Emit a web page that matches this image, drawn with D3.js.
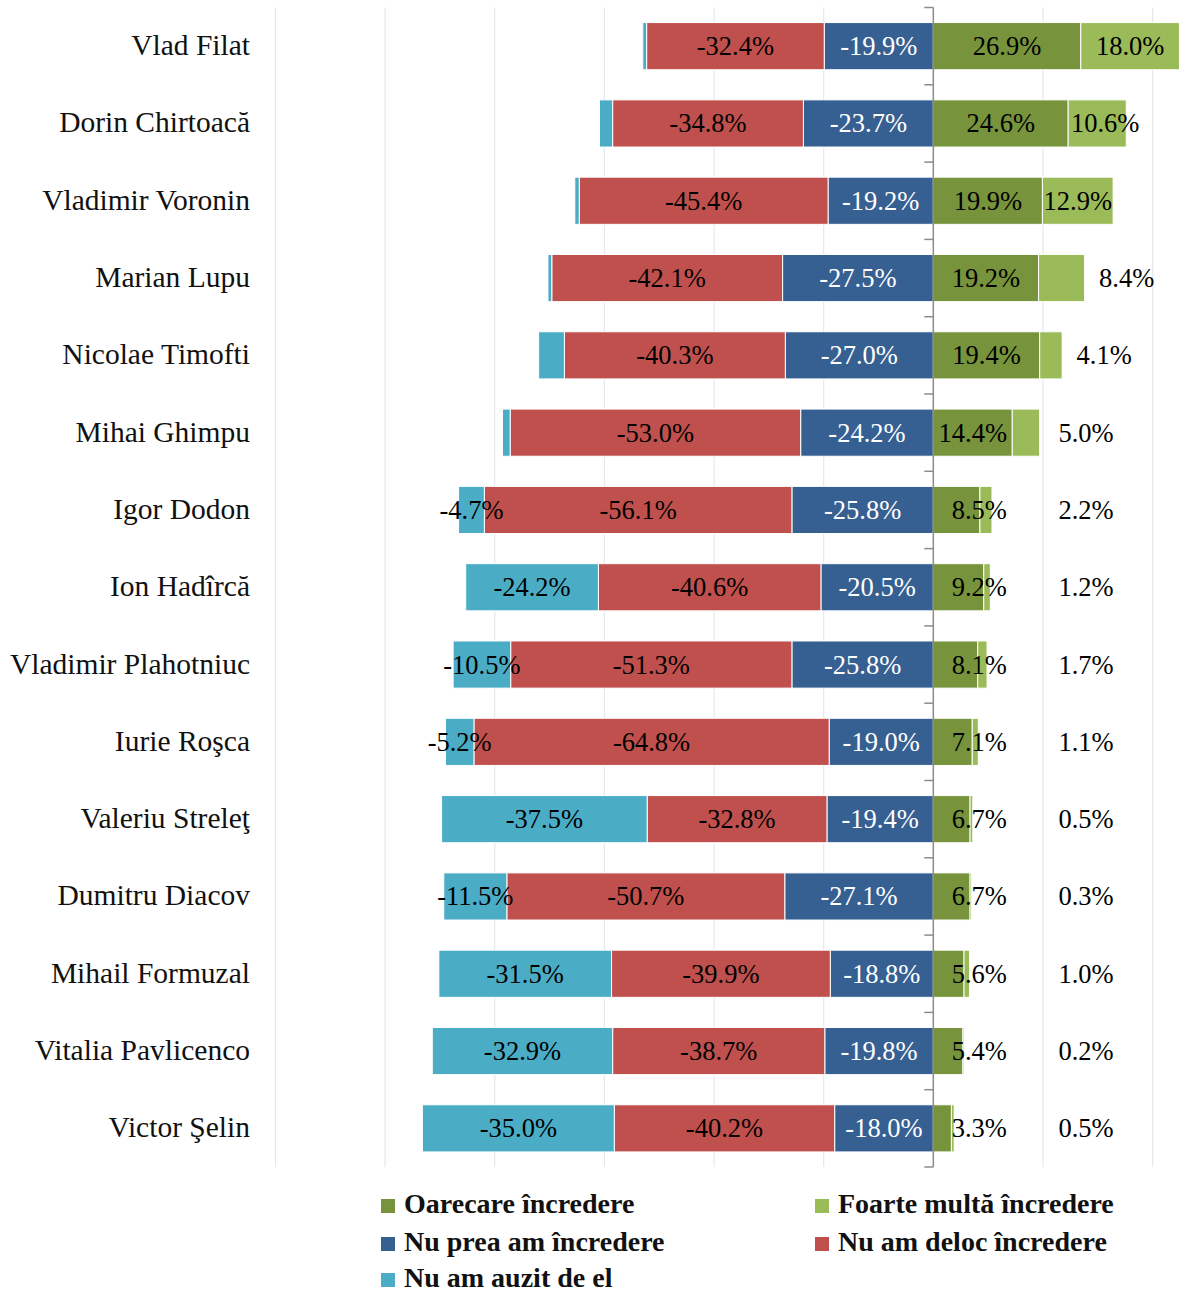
<!DOCTYPE html>
<html>
<head>
<meta charset="utf-8">
<script src="https://cdn.jsdelivr.net/npm/d3@7"></script>
<style>
  body { margin: 0; background: #fff; }
  text { font-family: "Liberation Serif", "Times New Roman", serif; }
</style>
</head>
<body>
<svg id="chart" width="1179" height="1294"></svg>
<script>
var candidates = ["Vlad Filat", "Dorin Chirtoacă", "Vladimir Voronin", "Marian Lupu", "Nicolae Timofti",
  "Mihai Ghimpu", "Igor Dodon", "Ion Hadîrcă", "Vladimir Plahotniuc", "Iurie Roşca",
  "Valeriu Streleţ", "Dumitru Diacov", "Mihail Formuzal", "Vitalia Pavlicenco", "Victor Şelin"]

var nuAmAuzit   = [0.7, 2.4, 0.8, 0.7, 4.7, 1.4, 4.7, 24.2, 10.5, 5.2, 37.5, 11.5, 31.5, 32.9, 35.0]
var nuAmDeloc   = [32.4, 34.8, 45.4, 42.1, 40.3, 53.0, 56.1, 40.6, 51.3, 64.8, 32.8, 50.7, 39.9, 38.7, 40.2]
var nuPrea      = [19.9, 23.7, 19.2, 27.5, 27.0, 24.2, 25.8, 20.5, 25.8, 19.0, 19.4, 27.1, 18.8, 19.8, 18.0]
var oarecare    = [26.9, 24.6, 19.9, 19.2, 19.4, 14.4, 8.5, 9.2, 8.1, 7.1, 6.7, 6.7, 5.6, 5.4, 3.3]
var foarteMulta = [18.0, 10.6, 12.9, 8.4, 4.1, 5.0, 2.2, 1.2, 1.7, 1.1, 0.5, 0.3, 1.0, 0.2, 0.5]
// the chart leaves the tiny "nu am auzit" slices of the first six rows unlabeled
var auzitLabeled = [false, false, false, false, false, false, true, true, true, true, true, true, true, true, true]

var ticks = [-120, -100, -80, -60, -40, -20, 0, 20, 40]

var series = [
  {name: "Oarecare încredere", values: oarecare, color: "#77933C", side: 1},
  {name: "Foarte multă încredere", values: foarteMulta, color: "#9BBB59", side: 1},
  {name: "Nu prea am încredere", values: nuPrea, color: "#376092", side: -1},
  {name: "Nu am deloc încredere", values: nuAmDeloc, color: "#C0504D", side: -1},
  {name: "Nu am auzit de el", values: nuAmAuzit, color: "#4BACC6", side: -1}
]

var svg = d3.select("#chart")

var x = d3.scaleLinear().domain([-120, 45]).range([275.5, 1180])
var y = d3.scaleBand().domain(candidates).range([7.5, 1167]).paddingInner(0.39).paddingOuter(0.195)

var grid = svg.append("g").attr("class", "grid")
grid.selectAll("line").data(ticks.filter(function(t){ return t != 0 }))
  .enter().append("line")
  .attr("x1", function(d){ return x(d) }).attr("x2", function(d){ return x(d) })
  .attr("y1", 7.5).attr("y2", 1167)
  .attr("stroke", "#E3E8EF").attr("stroke-width", 1.2)

// build stacked segments away from zero
var segs = []
candidates.forEach(function(c, i){
  var pos = 0, neg = 0
  series.forEach(function(s){
    var v = s.values[i]
    var seg = {cand: c, i: i, s: s, v: v}
    if (s.side > 0) { seg.x0 = pos; seg.x1 = pos + v; pos += v }
    else { seg.x0 = neg - v; seg.x1 = neg; neg -= v }
    segs.push(seg)
  })
})

svg.append("g").selectAll("rect").data(segs)
  .enter().append("rect")
  .attr("x", function(d){ return x(d.x0) })
  .attr("width", function(d){ return x(d.x1) - x(d.x0) })
  .attr("y", function(d){ return y(d.cand) })
  .attr("height", y.bandwidth())
  .attr("fill", function(d){ return d.s.color })
  .attr("stroke", "#fff").attr("stroke-width", 1)

// zero axis with ticks at the category boundaries
var axis = svg.append("g")
axis.append("line").attr("x1", x(0)).attr("x2", x(0)).attr("y1", 7.5).attr("y2", 1167)
  .attr("stroke", "#8C8C8C").attr("stroke-width", 1.5)
axis.selectAll(".tk").data(d3.range(candidates.length + 1))
  .enter().append("line").attr("class", "tk")
  .attr("x1", x(0) - 9).attr("x2", x(0))
  .attr("y1", function(d){ return 7.5 + d * y.step() })
  .attr("y2", function(d){ return 7.5 + d * y.step() })
  .attr("stroke", "#8C8C8C").attr("stroke-width", 1.5)

function labelX(d) {
  var mid = (x(d.x0) + x(d.x1)) / 2
  var w = x(d.x1) - x(d.x0)
  if (d.s.name == "Oarecare încredere" && w < 65) return Math.max(mid, x(0) + 46)
  if (d.s.name == "Foarte multă încredere" && d.v < 10) return Math.max(x(d.x1) + 42, 1086)
  if (d.s.name == "Foarte multă încredere" && w < 65) return mid + 8
  return mid
}

var labelSegs = segs.filter(function(d){
  return d.s.name != "Nu am auzit de el" || auzitLabeled[d.i]
})

svg.append("g").selectAll("text").data(labelSegs)
  .enter().append("text")
  .attr("x", labelX)
  .attr("y", function(d){ return y(d.cand) + y.bandwidth() / 2 + 9 })
  .attr("text-anchor", "middle")
  .attr("font-size", 26.5)
  .attr("fill", function(d){ return d.s.name == "Nu prea am încredere" ? "#fff" : "#000" })
  .text(function(d){ return (d.s.side < 0 ? "-" : "") + d.v.toFixed(1) + "%" })

svg.append("g").selectAll("text").data(candidates)
  .enter().append("text")
  .attr("x", 250)
  .attr("y", function(d){ return y(d) + y.bandwidth() / 2 + 9 })
  .attr("text-anchor", "end")
  .attr("font-size", 29.5)
  .attr("fill", "#111")
  .text(function(d){ return d })

// legend, two columns
var legendCols = [381, 815], legendRows = [1205, 1243, 1279]
var legend = svg.append("g").selectAll("g").data(series)
  .enter().append("g")
  .attr("transform", function(d, i){
    return "translate(" + legendCols[i % 2] + "," + legendRows[Math.floor(i / 2)] + ")"
  })
legend.append("rect").attr("x", 0).attr("y", -6).attr("width", 14).attr("height", 14)
  .attr("fill", function(d){ return d.color })
legend.append("text").attr("x", 23).attr("y", 8)
  .attr("font-size", 28).attr("font-weight", "bold").attr("fill", "#111")
  .text(function(d){ return d.name })
</script>
</body>
</html>
